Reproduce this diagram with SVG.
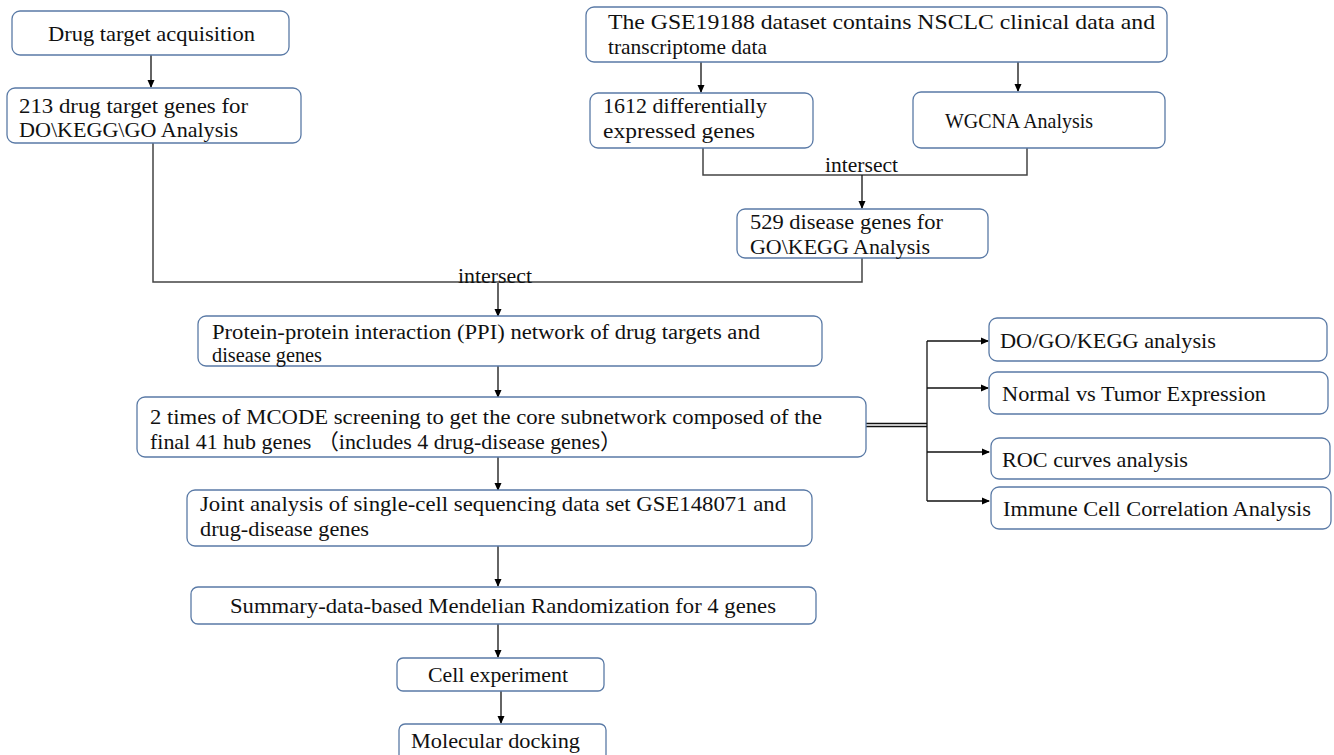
<svg xmlns="http://www.w3.org/2000/svg" width="1334" height="755" viewBox="0 0 1334 755">
<defs>
<marker id="ah" markerWidth="8" markerHeight="8" refX="7" refY="4" orient="auto" markerUnits="userSpaceOnUse">
<path d="M0,0.5 L8,4 L0,7.5 Z" fill="#000"/>
</marker>
<style>
.box{fill:#fff;stroke:#5a7aa6;stroke-width:1.3}
.t{font-family:"Liberation Serif","Times New Roman","Noto Sans CJK SC",serif;font-size:21.5px;fill:#111}
.s{font-size:20px}
.ln{fill:none;stroke:#111;stroke-width:1.3}
.lg{fill:none;stroke:#444;stroke-width:1.5}
</style>
</defs>
<rect width="1334" height="755" fill="#fff"/>

<g id="connectors">
<line class="ln" x1="151" y1="55" x2="151" y2="87" marker-end="url(#ah)"/>
<line class="ln" x1="701" y1="62" x2="701" y2="92" marker-end="url(#ah)"/>
<line class="ln" x1="1018" y1="62" x2="1018" y2="91" marker-end="url(#ah)"/>
<polyline class="lg" points="703,148 703,175 1027,175 1027,148"/>
<line class="ln" x1="862" y1="175" x2="862" y2="208" marker-end="url(#ah)"/>
<polyline class="lg" points="153,143 153,282 862,282 862,258"/>
<line class="ln" x1="498" y1="283" x2="498" y2="316" marker-end="url(#ah)"/>
<line class="ln" x1="498" y1="366" x2="498" y2="397" marker-end="url(#ah)"/>
<line class="ln" x1="498" y1="457" x2="498" y2="490" marker-end="url(#ah)"/>
<line class="ln" x1="498" y1="546" x2="498" y2="586" marker-end="url(#ah)"/>
<line class="ln" x1="498" y1="624" x2="498" y2="657" marker-end="url(#ah)"/>
<line class="ln" x1="501" y1="691" x2="501" y2="723" marker-end="url(#ah)"/>
<line class="ln" x1="866" y1="423.5" x2="927" y2="423.5"/>
<line class="ln" x1="866" y1="426.5" x2="927" y2="426.5"/>
<line class="ln" x1="927" y1="341" x2="927" y2="501"/>
<line class="ln" x1="927" y1="341" x2="988" y2="341" marker-end="url(#ah)"/>
<line class="ln" x1="927" y1="388" x2="988" y2="388" marker-end="url(#ah)"/>
<line class="ln" x1="927" y1="452" x2="989" y2="452" marker-end="url(#ah)"/>
<line class="ln" x1="927" y1="501" x2="989" y2="501" marker-end="url(#ah)"/>
<text class="t" x="825" y="172" textLength="73" lengthAdjust="spacingAndGlyphs">intersect</text>
<text class="t" x="458" y="283" textLength="74" lengthAdjust="spacingAndGlyphs">intersect</text>
</g>

<g id="n1"><rect class="box" x="12" y="11" width="277" height="44" rx="8"/>
<text class="t" x="48" y="41" textLength="207" lengthAdjust="spacingAndGlyphs">Drug target acquisition</text></g>

<g id="n2"><rect class="box" x="7" y="88" width="294" height="55" rx="8"/>
<text class="t" x="19" y="113" textLength="229" lengthAdjust="spacingAndGlyphs">213 drug target genes for</text>
<text class="t" x="19" y="137" textLength="219" lengthAdjust="spacingAndGlyphs">DO\KEGG\GO Analysis</text></g>

<g id="n3"><rect class="box" x="586" y="7" width="581" height="55" rx="8"/>
<text class="t" x="608" y="29" textLength="547" lengthAdjust="spacingAndGlyphs">The GSE19188 dataset contains NSCLC clinical data and</text>
<text class="t" x="608" y="54" textLength="159" lengthAdjust="spacingAndGlyphs">transcriptome data</text></g>

<g id="n4"><rect class="box" x="590" y="93" width="223" height="55" rx="8"/>
<text class="t" x="603" y="113" textLength="164" lengthAdjust="spacingAndGlyphs">1612 differentially</text>
<text class="t" x="603" y="138" textLength="152" lengthAdjust="spacingAndGlyphs">expressed  genes</text></g>

<g id="n5"><rect class="box" x="913" y="92" width="252" height="56" rx="8"/>
<text class="t" x="945" y="128" textLength="148" lengthAdjust="spacingAndGlyphs">WGCNA Analysis</text></g>

<g id="n6"><rect class="box" x="737" y="209" width="251" height="49" rx="8"/>
<text class="t" x="750" y="229" textLength="193" lengthAdjust="spacingAndGlyphs">529 disease genes for</text>
<text class="t" x="750" y="254" textLength="180" lengthAdjust="spacingAndGlyphs">GO\KEGG Analysis</text></g>

<g id="n7"><rect class="box" x="198" y="316" width="624" height="50" rx="8"/>
<text class="t s" x="212" y="339" textLength="548" lengthAdjust="spacingAndGlyphs">Protein-protein interaction (PPI) network of drug targets and</text>
<text class="t s" x="212" y="362" textLength="110" lengthAdjust="spacingAndGlyphs">disease genes</text></g>

<g id="n8"><rect class="box" x="137" y="397" width="729" height="60" rx="8"/>
<text class="t" x="150" y="424" textLength="672" lengthAdjust="spacingAndGlyphs">2 times of MCODE screening to get the core subnetwork composed of the</text>
<text class="t" x="150" y="449" textLength="472" lengthAdjust="spacingAndGlyphs">final 41 hub genes （includes 4 drug-disease genes）</text></g>

<g id="n9"><rect class="box" x="187" y="490" width="625" height="56" rx="8"/>
<text class="t" x="200" y="511" textLength="586" lengthAdjust="spacingAndGlyphs">Joint analysis of single-cell sequencing data set GSE148071 and</text>
<text class="t" x="200" y="536" textLength="169" lengthAdjust="spacingAndGlyphs">drug-disease genes</text></g>

<g id="n10"><rect class="box" x="191" y="587" width="625" height="37" rx="7"/>
<text class="t" x="230" y="613" textLength="546" lengthAdjust="spacingAndGlyphs">Summary-data-based Mendelian Randomization for 4 genes</text></g>

<g id="n11"><rect class="box" x="397" y="658" width="207" height="33" rx="6"/>
<text class="t" x="428" y="682" textLength="140" lengthAdjust="spacingAndGlyphs">Cell experiment</text></g>

<g id="n12"><rect class="box" x="399" y="724" width="207" height="40" rx="6"/>
<text class="t" x="411" y="748" textLength="169" lengthAdjust="spacingAndGlyphs">Molecular docking</text></g>

<g id="n13"><rect class="box" x="989" y="318" width="338" height="43" rx="8"/>
<text class="t" x="1000" y="348" textLength="216" lengthAdjust="spacingAndGlyphs">DO/GO/KEGG analysis</text></g>

<g id="n14"><rect class="box" x="989" y="372" width="339" height="42" rx="8"/>
<text class="t" x="1002" y="401" textLength="264" lengthAdjust="spacingAndGlyphs">Normal vs Tumor Expression</text></g>

<g id="n15"><rect class="box" x="991" y="438" width="339" height="41" rx="8"/>
<text class="t" x="1002" y="467" textLength="186" lengthAdjust="spacingAndGlyphs">ROC curves analysis</text></g>

<g id="n16"><rect class="box" x="991" y="487" width="340" height="42" rx="8"/>
<text class="t" x="1003" y="516" textLength="308" lengthAdjust="spacingAndGlyphs">Immune Cell Correlation Analysis</text></g>
</svg>
